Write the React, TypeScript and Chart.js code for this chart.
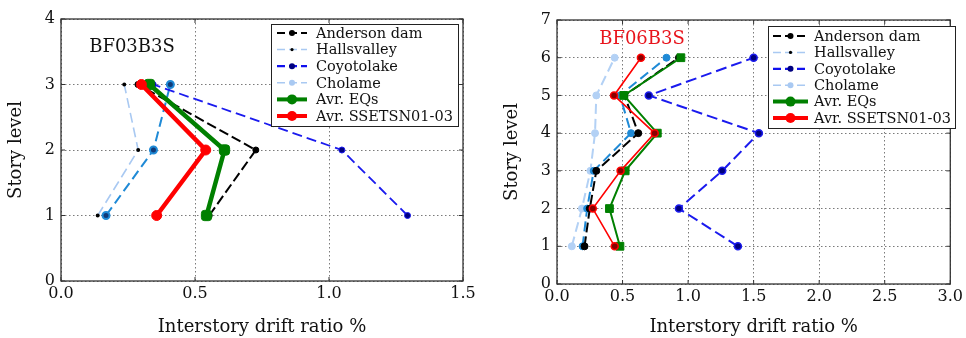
import React, { useEffect, useRef } from "react";
import { Chart, registerables } from "chart.js";

Chart.register(...registerables);

// ---------------- DATA ----------------
const seriesNames = [
  "Anderson dam",
  "Hallsvalley",
  "Coyotolake",
  "Cholame",
  "Avr. EQs",
  "Avr. SSETSN01-03",
];

// Left panel: BF03B3S
const leftTitle = "BF03B3S";
const leftStories = [1, 2, 3];
const leftAnderson = [0.553, 0.727, 0.287];
const leftHallsvalley = [0.137, 0.288, 0.236];
const leftCoyotolake = [1.293, 1.048, 0.344];
const leftCholame = [0.168, 0.345, 0.408];
const leftAvrEQs = [0.543, 0.61, 0.33];
const leftAvrSSETSN = [0.357, 0.54, 0.3];

// Right panel: BF06B3S
const rightTitle = "BF06B3S";
const rightStories = [1, 2, 3, 4, 5, 6];
const rightAnderson = [0.21, 0.25, 0.3, 0.62, 0.515, 0.93];
const rightHallsvalley = [0.195, 0.23, 0.28, 0.565, 0.48, 0.835];
const rightCoyotolake = [1.38, 0.93, 1.26, 1.54, 0.7, 1.5];
const rightCholame = [0.113, 0.19, 0.255, 0.29, 0.3, 0.44];
const rightAvrEQs = [0.48, 0.4, 0.52, 0.765, 0.51, 0.945];
const rightAvrSSETSN = [0.44, 0.273, 0.485, 0.745, 0.435, 0.64];

const xAxisTitle = "Interstory drift ratio %";
const yAxisTitle = "Story level";

// ---------------- STYLES ----------------
const FONT = '"DejaVu Serif", "Liberation Serif", serif';

type SeriesStyle = {
  color: string;
  width: number;
  dash: number[];
  pointStyle: string;
  radius: number;
  pointFill: string;
  pointBorder: string;
  pointBorderWidth: number;
  order: number;
};

type LegendStyle = {
  color: string;
  width: number;
  dash: number[];
  marker: string;
  radius: number;
};

const legendStyles: LegendStyle[] = [
  { color: "#000000", width: 2.2, dash: [8, 4], marker: "#000000", radius: 3 },
  { color: "#a9c9f2", width: 1.5, dash: [8, 4], marker: "#000000", radius: 1.6 },
  { color: "#1010ee", width: 2.2, dash: [8, 4], marker: "#000080", radius: 3 },
  { color: "#a9c9f2", width: 1.5, dash: [8, 4], marker: "#a9c9f2", radius: 3 },
  { color: "#008000", width: 4, dash: [], marker: "#008000", radius: 5 },
  { color: "#ff0000", width: 4, dash: [], marker: "#ff0000", radius: 5 },
];

const leftStyles: SeriesStyle[] = [
  { color: "#000000", width: 2, dash: [10, 4], pointStyle: "circle", radius: 3, pointFill: "#000000", pointBorder: "#000000", pointBorderWidth: 1, order: 2 },
  { color: "#a9c9f2", width: 1.6, dash: [10, 5], pointStyle: "circle", radius: 2, pointFill: "#000000", pointBorder: "#000000", pointBorderWidth: 0, order: 5 },
  { color: "#1a1aee", width: 1.8, dash: [10, 5], pointStyle: "circle", radius: 3, pointFill: "#000080", pointBorder: "#1a1aee", pointBorderWidth: 1, order: 3 },
  { color: "#1f8ad6", width: 2, dash: [10, 5], pointStyle: "circle", radius: 3.5, pointFill: "#103a78", pointBorder: "#1f8ad6", pointBorderWidth: 2, order: 4 },
  { color: "#008000", width: 4.5, dash: [], pointStyle: "rectRounded", radius: 6, pointFill: "#008000", pointBorder: "#008000", pointBorderWidth: 1, order: 1 },
  { color: "#ff0000", width: 4.5, dash: [], pointStyle: "circle", radius: 5, pointFill: "#ff0000", pointBorder: "#ff0000", pointBorderWidth: 1, order: 0 },
];

const rightStyles: SeriesStyle[] = [
  { color: "#000000", width: 2, dash: [10, 4], pointStyle: "circle", radius: 3.5, pointFill: "#000000", pointBorder: "#000000", pointBorderWidth: 1, order: 2 },
  { color: "#1f8ad6", width: 2, dash: [10, 5], pointStyle: "circle", radius: 3.5, pointFill: "#1f8ad6", pointBorder: "#1f8ad6", pointBorderWidth: 1, order: 3 },
  { color: "#1a1aee", width: 2, dash: [11, 5], pointStyle: "circle", radius: 3.5, pointFill: "#000080", pointBorder: "#1a1aee", pointBorderWidth: 1.5, order: 4 },
  { color: "#b3d1f5", width: 2, dash: [10, 5], pointStyle: "circle", radius: 3.5, pointFill: "#b3d1f5", pointBorder: "#b3d1f5", pointBorderWidth: 1, order: 5 },
  { color: "#008000", width: 2, dash: [], pointStyle: "rect", radius: 5.5, pointFill: "#008000", pointBorder: "#008000", pointBorderWidth: 1, order: 1 },
  { color: "#ff0000", width: 1.6, dash: [], pointStyle: "circle", radius: 3.5, pointFill: "#8a0000", pointBorder: "#ff0000", pointBorderWidth: 1.5, order: 0 },
];

type Panel = {
  title: string;
  titleColor: string;
  titleX: number;
  titleY: number;
  stories: number[];
  series: number[][];
  styles: SeriesStyle[];
  xMax: number;
  yMax: number;
  padTop: number;
  padRight: number;
  yAxisWidth: number;
  xAxisHeight: number;
  yTitlePad: number;
  legendBox: { x: number; y: number; w: number; h: number };
  legendRow0: number;
  legendRowStep: number;
  legendLine: [number, number];
  legendTextX: number;
};

const leftPanel: Panel = {
  title: leftTitle,
  titleColor: "#111111",
  titleX: 132,
  titleY: 47,
  stories: leftStories,
  series: [leftAnderson, leftHallsvalley, leftCoyotolake, leftCholame, leftAvrEQs, leftAvrSSETSN],
  styles: leftStyles,
  xMax: 1.5,
  yMax: 4,
  padTop: 19,
  padRight: 17,
  yAxisWidth: 61,
  xAxisHeight: 57,
  yTitlePad: 6,
  legendBox: { x: 271, y: 24, w: 187, h: 102 },
  legendRow0: 33,
  legendRowStep: 16.6,
  legendLine: [277, 307],
  legendTextX: 316,
};

const rightPanel: Panel = {
  title: rightTitle,
  titleColor: "#e8141c",
  titleX: 156,
  titleY: 39,
  stories: rightStories,
  series: [rightAnderson, rightHallsvalley, rightCoyotolake, rightCholame, rightAvrEQs, rightAvrSSETSN],
  styles: rightStyles,
  xMax: 3.0,
  yMax: 7,
  padTop: 20,
  padRight: 6,
  yAxisWidth: 71,
  xAxisHeight: 54,
  yTitlePad: 16,
  legendBox: { x: 282, y: 26, w: 187, h: 102 },
  legendRow0: 36,
  legendRowStep: 16.4,
  legendLine: [287, 322],
  legendTextX: 328,
};

function drawMarker(ctx: CanvasRenderingContext2D, x: number, y: number, r: number, color: string) {
  ctx.beginPath();
  ctx.arc(x, y, r, 0, Math.PI * 2);
  ctx.fillStyle = color;
  ctx.fill();
}

function PanelChart({ panel, left }: { panel: Panel; left: number }) {
  const ref = useRef<HTMLCanvasElement | null>(null);

  useEffect(() => {
    if (!ref.current) return;
    const datasets = panel.series.map((vals, i) => {
      const s = panel.styles[i];
      return {
        label: seriesNames[i],
        data: vals.map((v, k) => ({ x: v, y: panel.stories[k] })),
        showLine: true,
        borderColor: s.color,
        borderWidth: s.width,
        borderDash: s.dash,
        backgroundColor: s.pointFill,
        pointStyle: s.pointStyle,
        pointRadius: s.radius,
        pointBackgroundColor: s.pointFill,
        pointBorderColor: s.pointBorder,
        pointBorderWidth: s.pointBorderWidth,
        tension: 0,
        order: s.order,
        clip: false,
      };
    });

    const decor = {
      id: "decor",
      afterDatasetsDraw(chart: any) {
        const ctx: CanvasRenderingContext2D = chart.ctx;
        const a = chart.chartArea;
        const xs = chart.scales.x;
        const ys = chart.scales.y;
        ctx.save();
        ctx.setLineDash([]);
        // frame
        ctx.strokeStyle = "#333333";
        ctx.lineWidth = 1.3;
        ctx.strokeRect(a.left, a.top, a.right - a.left, a.bottom - a.top);
        // inward ticks
        ctx.lineWidth = 1;
        ctx.beginPath();
        xs.ticks.forEach((t: any) => {
          const px = xs.getPixelForValue(t.value);
          ctx.moveTo(px, a.bottom);
          ctx.lineTo(px, a.bottom - 4);
          ctx.moveTo(px, a.top);
          ctx.lineTo(px, a.top + 4);
        });
        ys.ticks.forEach((t: any) => {
          const py = ys.getPixelForValue(t.value);
          ctx.moveTo(a.left, py);
          ctx.lineTo(a.left + 4, py);
          ctx.moveTo(a.right, py);
          ctx.lineTo(a.right - 4, py);
        });
        ctx.stroke();

        // panel title
        ctx.font = `18px ${FONT}`;
        ctx.fillStyle = panel.titleColor;
        ctx.textAlign = "center";
        ctx.textBaseline = "middle";
        ctx.fillText(panel.title, panel.titleX, panel.titleY);

        // legend
        const b = panel.legendBox;
        ctx.fillStyle = "#ffffff";
        ctx.fillRect(b.x, b.y, b.w, b.h);
        ctx.strokeStyle = "#222222";
        ctx.lineWidth = 1;
        ctx.strokeRect(b.x + 0.5, b.y + 0.5, b.w, b.h);
        ctx.font = `14.5px ${FONT}`;
        ctx.textAlign = "left";
        ctx.textBaseline = "middle";
        seriesNames.forEach((name, i) => {
          const ls = legendStyles[i];
          const y = panel.legendRow0 + i * panel.legendRowStep;
          const [x0, x1] = panel.legendLine;
          ctx.beginPath();
          ctx.setLineDash(ls.dash);
          ctx.strokeStyle = ls.color;
          ctx.lineWidth = ls.width;
          ctx.moveTo(x0, y);
          ctx.lineTo(x1, y);
          ctx.stroke();
          ctx.setLineDash([]);
          drawMarker(ctx, (x0 + x1) / 2, y, ls.radius, ls.marker);
          ctx.fillStyle = "#111111";
          ctx.fillText(name, panel.legendTextX, y + 1);
        });
        ctx.restore();
      },
    };

    const chart = new Chart(ref.current, {
      type: "scatter",
      data: { datasets: datasets as any },
      options: {
        animation: false,
        responsive: false,
        maintainAspectRatio: false,
        layout: {
          autoPadding: false,
          padding: { left: 0, top: panel.padTop, right: panel.padRight, bottom: 0 },
        } as any,
        plugins: {
          legend: { display: false },
          tooltip: { enabled: false },
        },
        scales: {
          x: {
            type: "linear",
            min: 0,
            max: panel.xMax,
            afterFit: (scale: any) => {
              scale.height = panel.xAxisHeight;
            },
            ticks: {
              stepSize: 0.5,
              autoSkip: false,
              maxRotation: 0,
              padding: 3,
              color: "#111111",
              font: { family: FONT, size: 16 },
              callback: (v: any) => Number(v).toFixed(1),
            },
            grid: {
              color: "#7a7a7a",
              lineWidth: 1,
              drawTicks: false,
            },
            border: { display: false, dash: [1.5, 2.5] },
            title: {
              display: true,
              text: xAxisTitle,
              color: "#111111",
              font: { family: FONT, size: 18 },
              padding: { top: 0, bottom: 0 },
            },
          },
          y: {
            type: "linear",
            min: 0,
            max: panel.yMax,
            afterFit: (scale: any) => {
              scale.width = panel.yAxisWidth;
            },
            ticks: {
              stepSize: 1,
              padding: 6,
              color: "#111111",
              font: { family: FONT, size: 16 },
            },
            grid: {
              color: "#7a7a7a",
              lineWidth: 1,
              drawTicks: false,
            },
            border: { display: false, dash: [1.5, 2.5] },
            title: {
              display: true,
              text: yAxisTitle,
              color: "#111111",
              font: { family: FONT, size: 18 },
              padding: { top: panel.yTitlePad, bottom: 0 },
            },
          },
        },
      },
      plugins: [decor],
    });
    return () => chart.destroy();
  }, [panel]);

  return (
    <div style={{ position: "absolute", left, top: 0, width: 480, height: 338 }}>
      <canvas ref={ref} width={480} height={338} style={{ width: 480, height: 338, display: "block" }} />
    </div>
  );
}

export default function App() {
  return (
    <div
      style={{
        position: "fixed",
        left: 0,
        top: 0,
        width: 966,
        height: 338,
        background: "#ffffff",
        overflow: "hidden",
      }}
    >
      <PanelChart panel={leftPanel} left={0} />
      <PanelChart panel={rightPanel} left={486} />
    </div>
  );
}
